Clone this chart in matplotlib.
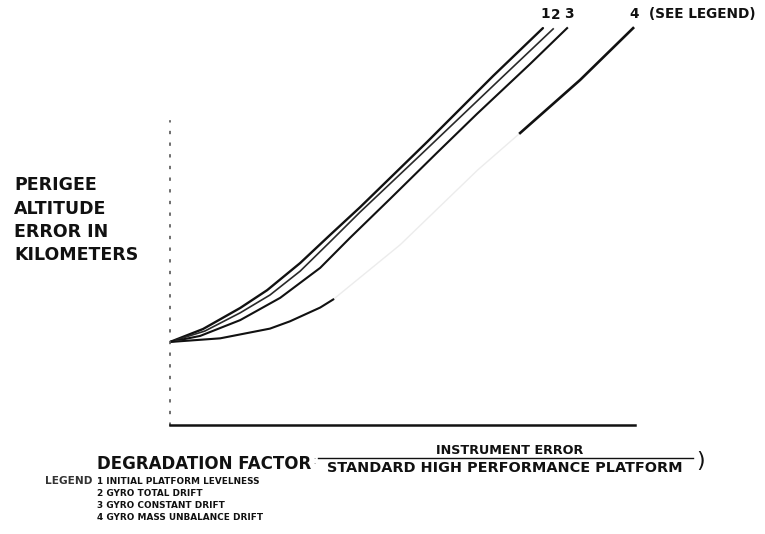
import numpy as np
import matplotlib
matplotlib.use("Agg")
import matplotlib.pyplot as plt

# Degradation factor (x) and perigee altitude error (y), arbitrary chart units (no ticks in original)
x1 = [0.00, 0.71, 1.51, 2.09, 2.80, 3.44, 4.09, 5.53, 6.95, 8.02]
y1 = [2.05, 2.37, 2.89, 3.33, 4.00, 4.69, 5.38, 6.99, 8.62, 9.80]

x2 = [0.00, 0.75, 1.51, 2.15, 2.80, 3.44, 4.09, 5.38, 7.10, 8.24]
y2 = [2.05, 2.32, 2.77, 3.21, 3.80, 4.52, 5.26, 6.66, 8.54, 9.78]

x3 = [0.00, 0.65, 1.51, 2.37, 3.23, 3.87, 4.73, 5.74, 6.60, 7.74, 8.54]
y3 = [2.05, 2.20, 2.59, 3.14, 3.88, 4.62, 5.58, 6.72, 7.68, 8.91, 9.80]

x4 = [0.00, 1.08, 2.15, 2.58, 3.23, 3.51, 4.95, 6.62, 7.53, 8.82, 9.96]
y4 = [2.05, 2.14, 2.38, 2.56, 2.90, 3.10, 4.45, 6.30, 7.21, 8.52, 9.80]

curve_labels = ["1", "2", "3", "4  (SEE LEGEND)"]
legend_items = ["1 INITIAL PLATFORM LEVELNESS", "2 GYRO TOTAL DRIFT",
                "3 GYRO CONSTANT DRIFT", "4 GYRO MASS UNBALANCE DRIFT"]
ylabel_lines = ["PERIGEE", "ALTITUDE", "ERROR IN", "KILOMETERS"]

W, H = 765, 534
fig = plt.figure(figsize=(W / 100, H / 100), dpi=100)
ax = fig.add_axes([170 / W, (H - 425) / H, 465 / W, 405 / H])
ax.set_xlim(0, 10)
ax.set_ylim(0, 10)

ink = "#111111"
ax.plot(x1, y1, color=ink, lw=1.7, solid_capstyle="round")
ax.plot(x2, y2, color="#2a2a2a", lw=1.2)
ax.plot(x3, y3, color=ink, lw=1.5)

# curve 4: faint in the middle in the scanned original
x4a = np.array(x4); y4a = np.array(y4)
lo = x4a <= 3.6
hi = x4a >= 7.5
ax.plot(x4a, y4a, color="#ececec", lw=1.0)
ax.plot(x4a[lo], y4a[lo], color=ink, lw=1.5)
ax.plot(x4a[hi], y4a[hi], color=ink, lw=1.9)

# labels at curve ends
ends = [(x1[-1], y1[-1]), (x2[-1], y2[-1]), (x3[-1], y3[-1]), (x4[-1], y4[-1])]
for (xe, ye), lab in zip(ends, curve_labels):
    ax.annotate(lab, (xe, ye), xytext=(-2, 5), textcoords="offset points",
                ha="left", va="bottom", fontsize=9.8, fontweight="bold",
                color=ink, annotation_clip=False)

# spines
for s in ["top", "right"]:
    ax.spines[s].set_visible(False)
ax.spines["bottom"].set_color(ink)
ax.spines["bottom"].set_linewidth(1.8)
ax.spines["left"].set_color("#555555")
ax.spines["left"].set_linewidth(1.2)
ax.spines["left"].set_linestyle((0, (1, 6)))
ax.spines["left"].set_bounds(0, 7.5)
ax.set_xticks([])
ax.set_yticks([])

# y label
for i, t in enumerate(ylabel_lines):
    fig.text(14 / W, 1 - (185 + i * 23.5) / H, t, fontsize=12.5, fontweight="bold",
             ha="left", va="center", color=ink)

# x label
fig.text(97 / W, 1 - 464 / H, "DEGRADATION FACTOR", fontsize=12, fontweight="bold",
         ha="left", va="center", color=ink)
fig.text(510 / W, 1 - 454 / H, "INSTRUMENT ERROR", fontsize=9.2, fontweight="bold",
         ha="center", va="baseline", color=ink)
fig.add_artist(plt.Line2D([318 / W, 693 / W], [1 - 457.5 / H, 1 - 457.5 / H],
                          color=ink, lw=1.0))
fig.text(505 / W, 1 - 472 / H, "STANDARD HIGH PERFORMANCE PLATFORM", fontsize=10.4,
         fontweight="bold", ha="center", va="baseline", color=ink)
fig.text(696 / W, 1 - 461 / H, ")", fontsize=16, ha="left", va="center", color=ink)
fig.text(313 / W, 1 - 461 / H, ":", fontsize=9, ha="left", va="center", color="#aaaaaa")

# legend
fig.text(45 / W, 1 - 481 / H, "LEGEND", fontsize=7.6, fontweight="bold",
         ha="left", va="center", color="#333333")
for i, t in enumerate(legend_items):
    fig.text(97 / W, 1 - (481 + i * 12.3) / H, t, fontsize=6.4, fontweight="bold",
             ha="left", va="center", color=ink)

fig.savefig("out.png", dpi=100, facecolor="white")
